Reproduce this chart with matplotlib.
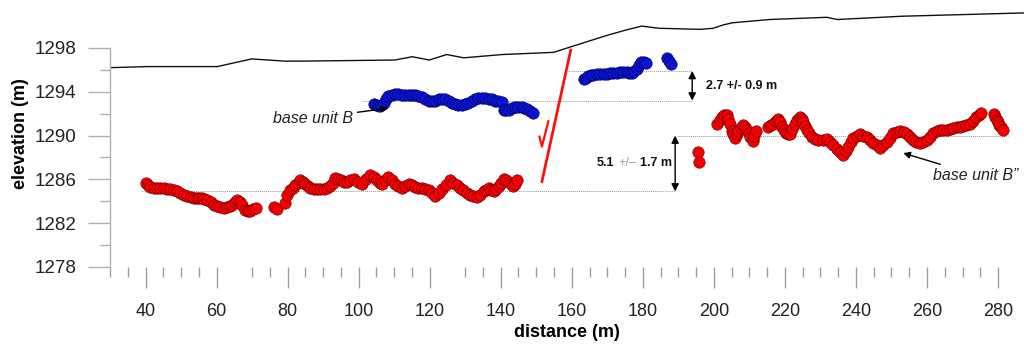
"""
Offset of base unit B across the fault - elevation profile along distance.
"""

import matplotlib
matplotlib.use("Agg")
import matplotlib.pyplot as plt
from matplotlib.ticker import FixedLocator

plt.rcParams["font.family"] = ["Liberation Sans", "DejaVu Sans"]

# ---------------------------------------------------------------------------
# DATA
# ---------------------------------------------------------------------------
# ground surface
topo_x = [30.0, 40.3, 60.2, 69.9, 79.0, 84.4, 110.2, 115.1, 119.9, 124.8, 129.6,
          140.4, 154.9, 159.7, 169.4, 174.8, 179.7, 184.5, 196.1, 199.8, 202.6,
          205.2, 215.8, 231.8, 234.7, 253.2, 287.3]
topo_y = [1296.2, 1296.3, 1296.3, 1297.0, 1296.8, 1296.8, 1296.9, 1297.2, 1296.9,
          1297.4, 1297.1, 1297.4, 1297.6, 1298.1, 1299.1, 1299.6, 1300.0, 1299.8,
          1299.7, 1299.8, 1300.1, 1300.3, 1300.6, 1300.8, 1300.6, 1300.9, 1301.2]

# base unit B (blue, left of fault)
blue_l_x = [104.2, 104.9, 105.6, 106.3, 107.0, 107.7, 108.4, 109.3, 110.3, 111.2,
            112.2, 113.1, 114.1, 115.0, 115.9, 116.8, 117.8, 118.7, 119.7, 120.6,
            121.6, 122.5, 123.5, 124.4, 125.3, 126.2, 127.2, 128.1, 129.1, 130.0,
            130.9, 131.8, 132.8, 133.7, 134.7, 135.6, 136.6, 137.5, 138.4, 139.3,
            140.3, 140.8, 141.5, 142.2, 143.1, 144.1, 145.0, 145.9, 146.6, 147.3,
            148.2, 149.2]
blue_l_y = [1292.9, 1292.8, 1292.7, 1292.8, 1293.0, 1293.3, 1293.6, 1293.7, 1293.8,
            1293.8, 1293.7, 1293.7, 1293.7, 1293.7, 1293.7, 1293.6, 1293.5, 1293.3,
            1293.2, 1293.2, 1293.2, 1293.3, 1293.3, 1293.3, 1293.2, 1293.0, 1292.9,
            1292.8, 1292.8, 1292.9, 1293.0, 1293.2, 1293.3, 1293.4, 1293.4, 1293.4,
            1293.3, 1293.3, 1293.2, 1293.2, 1293.1, 1292.3, 1292.3, 1292.3, 1292.5,
            1292.6, 1292.6, 1292.6, 1292.5, 1292.4, 1292.2, 1292.1]

# base unit B (blue, right of fault)
blue_r_x = [163.3, 164.0, 164.7, 165.4, 166.1, 167.0, 168.0, 169.0, 169.9, 170.8,
            171.7, 172.6, 173.6, 174.5, 175.5, 176.2, 176.9, 177.6, 178.3, 178.9,
            179.4, 180.2, 180.9, 186.8, 187.3, 187.9]
blue_r_y = [1295.2, 1295.3, 1295.4, 1295.5, 1295.5, 1295.6, 1295.6, 1295.6, 1295.6,
            1295.7, 1295.7, 1295.7, 1295.8, 1295.8, 1295.8, 1295.7, 1295.7, 1295.9,
            1296.1, 1296.4, 1296.7, 1296.7, 1296.6, 1297.1, 1296.8, 1296.5]

# base unit B'' (red, left of fault)
red_l_x = [40.0, 40.7, 41.4, 42.3, 43.3, 44.2, 45.1, 46.0, 47.0, 48.0, 48.9, 49.8,
           50.8, 51.8, 52.7, 53.6, 54.5, 55.2, 55.9, 56.6, 57.4, 58.3, 59.2, 60.2,
           61.1, 62.0, 63.0, 63.7, 64.4, 65.1, 65.8, 66.5, 67.2, 68.1, 68.8, 69.5,
           70.4, 71.2, 76.1, 77.0, 79.4, 79.9, 80.8, 81.5, 82.2, 82.9, 83.6, 84.3,
           85.0, 85.7, 86.4, 87.3, 88.3, 89.2, 90.2, 91.1, 92.0, 92.7, 93.4, 94.1,
           94.9, 95.8, 96.7, 97.6, 98.6, 99.8, 101.0, 102.2, 103.3, 104.2, 105.2,
           105.9, 106.6, 107.5, 108.4, 109.3, 110.3, 111.2, 112.2, 113.1, 114.1,
           115.0, 115.9, 116.8, 117.8, 118.7, 119.7, 120.6, 121.6, 122.5, 123.5,
           124.6, 125.8, 126.7, 127.7, 128.6, 129.5, 130.4, 131.4, 132.3, 133.3,
           134.2, 135.2, 135.9, 136.6, 137.3, 138.0, 138.7, 139.4, 140.1, 140.8,
           141.5, 142.2, 142.8, 143.4, 144.0, 144.7]
red_l_y = [1285.7, 1285.5, 1285.3, 1285.2, 1285.2, 1285.2, 1285.2, 1285.1, 1285.1,
           1285.0, 1284.9, 1284.8, 1284.6, 1284.5, 1284.4, 1284.3, 1284.3, 1284.3,
           1284.3, 1284.2, 1284.1, 1283.9, 1283.7, 1283.6, 1283.5, 1283.4, 1283.5,
           1283.6, 1283.7, 1283.9, 1284.1, 1283.9, 1283.7, 1283.2, 1283.1, 1283.1,
           1283.3, 1283.4, 1283.5, 1283.3, 1283.8, 1284.6, 1285.0, 1285.2, 1285.5,
           1285.7, 1285.9, 1285.8, 1285.6, 1285.4, 1285.2, 1285.1, 1285.1, 1285.1,
           1285.1, 1285.2, 1285.4, 1285.7, 1286.1, 1286.0, 1285.9, 1285.8, 1285.8,
           1285.9, 1286.0, 1285.8, 1285.6, 1286.0, 1286.4, 1286.2, 1285.9, 1285.7,
           1285.6, 1285.9, 1286.2, 1285.9, 1285.6, 1285.4, 1285.2, 1285.4, 1285.6,
           1285.5, 1285.3, 1285.2, 1285.2, 1285.1, 1285.0, 1284.8, 1284.5, 1284.8,
           1285.1, 1285.5, 1285.9, 1285.7, 1285.5, 1285.2, 1285.0, 1284.8, 1284.6,
           1284.5, 1284.4, 1284.6, 1284.9, 1285.0, 1285.2, 1285.0, 1284.9, 1285.1,
           1285.4, 1285.7, 1286.0, 1285.9, 1285.8, 1285.6, 1285.4, 1285.6, 1285.9]

# base unit B'' (red, right of fault)
red_r_x = [195.6, 195.9, 201.0, 201.6, 202.2, 202.9, 203.6, 204.1, 204.6, 205.0,
           205.5, 206.0, 206.5, 206.9, 207.6, 208.3, 208.8, 209.3, 209.8, 210.2,
           210.9, 211.4, 211.9, 215.3, 216.0, 216.7, 217.4, 218.1, 218.6, 219.1,
           219.7, 220.3, 220.9, 221.4, 222.1, 222.8, 223.5, 224.2, 224.7, 225.2,
           225.7, 226.1, 226.8, 227.5, 228.5, 229.4, 230.6, 231.8, 232.7, 233.6,
           234.6, 235.5, 236.4, 237.1, 237.8, 238.5, 239.2, 240.2, 241.1, 242.0,
           243.0, 244.0, 244.9, 245.8, 246.8, 247.7, 248.6, 249.6, 250.5, 251.5,
           252.4, 253.4, 254.3, 255.2, 256.1, 257.0, 258.0, 259.0, 259.9, 260.8,
           261.7, 262.7, 263.6, 264.6, 265.5, 266.5, 267.4, 268.4, 269.3, 270.2,
           271.1, 272.1, 273.0, 273.9, 274.5, 275.1, 278.8, 279.2, 279.6, 280.0,
           280.3, 280.9, 281.4]
red_r_y = [1288.5, 1287.6, 1291.1, 1291.4, 1291.7, 1291.9, 1291.9, 1291.5, 1291.1,
           1290.4, 1290.1, 1289.8, 1290.1, 1290.4, 1290.7, 1291.0, 1290.8, 1290.5,
           1290.2, 1289.9, 1289.5, 1290.0, 1290.4, 1290.8, 1291.0, 1291.1, 1291.3,
           1291.5, 1291.2, 1290.8, 1290.5, 1290.2, 1290.1, 1290.1, 1290.6, 1291.1,
           1291.4, 1291.7, 1291.5, 1291.2, 1290.9, 1290.5, 1290.2, 1289.9, 1289.7,
           1289.6, 1289.6, 1289.7, 1289.4, 1289.1, 1288.8, 1288.5, 1288.2, 1288.6,
           1289.0, 1289.4, 1289.8, 1290.0, 1290.1, 1290.0, 1289.9, 1289.6, 1289.3,
           1289.1, 1288.9, 1289.1, 1289.4, 1289.8, 1290.2, 1290.3, 1290.4, 1290.3,
           1290.1, 1289.9, 1289.6, 1289.4, 1289.3, 1289.4, 1289.6, 1289.9, 1290.2,
           1290.4, 1290.5, 1290.5, 1290.5, 1290.6, 1290.7, 1290.8, 1290.8, 1290.9,
           1291.0, 1291.1, 1291.3, 1291.7, 1291.9, 1292.1, 1292.0, 1291.7, 1291.4,
           1291.2, 1291.0, 1290.8, 1290.5]

# fault trace and slip half-arrow
fault_x = [159.7, 151.6]
fault_y = [1297.8, 1285.8]
slip_x = [153.4, 151.6, 150.9]
slip_y = [1291.3, 1289.0, 1289.9]

# mean levels used for the offsets (level, x start, x end)
ref_level = [1293.2, 1295.9, 1284.9, 1290.0]
ref_x0 = [101.0, 159.0, 38.6, 189.7]
ref_x1 = [193.9, 193.9, 189.1, 282.8]

# vertical offsets (x, low, high)
offset_x = [193.9, 189.1]
offset_lo = [1293.2, 1284.9]
offset_hi = [1295.9, 1290.0]

x_major = [40, 60, 80, 100, 120, 140, 160, 180, 200, 220, 240, 260, 280]
x_minor = [30, 35, 45, 50, 55, 70, 75, 85, 90, 95, 105, 110, 115, 130, 135,
           145, 150, 155, 165, 170, 175, 185, 190, 195, 205, 210, 215, 225, 230,
           235, 245, 250, 255, 265, 270, 275]
y_major = [1278, 1282, 1286, 1290, 1294, 1298]
y_minor = [1280, 1284, 1288, 1292, 1296]

RED = "#f50000"
BLUE = "#0a14d2"

# ---------------------------------------------------------------------------
# PLOT
# ---------------------------------------------------------------------------
fig = plt.figure(figsize=(10.24, 3.45), dpi=100)
ax = fig.add_axes([0.1074, 0.2261, 0.8926, 0.7739])

ax.plot(topo_x, topo_y, color="#111111", lw=1.0, zorder=2)

for lvl, x0, x1 in zip(ref_level, ref_x0, ref_x1):
    ax.plot([x0, x1], [lvl, lvl], color="#9a9a9a", lw=0.7, ls=(0, (1, 1)), zorder=1)

sc = dict(s=68, linewidths=0.4, zorder=3)
ax.scatter(red_l_x, red_l_y, c=RED, edgecolors="#5a0000", **sc)
ax.scatter(red_r_x, red_r_y, c=RED, edgecolors="#5a0000", **sc)
ax.scatter(blue_l_x, blue_l_y, c=BLUE, edgecolors="#000050", **sc)
ax.scatter(blue_r_x, blue_r_y, c=BLUE, edgecolors="#000050", **sc)

ax.plot(fault_x, fault_y, color="#ff1010", lw=2.0, zorder=4)
ax.plot(slip_x, slip_y, color="#ff1010", lw=1.6, zorder=4)

for xo, lo, hi in zip(offset_x, offset_lo, offset_hi):
    ax.annotate("", xy=(xo, lo), xytext=(xo, hi),
                arrowprops=dict(arrowstyle="<|-|>", color="black", lw=1.0,
                                mutation_scale=11, shrinkA=0, shrinkB=0))

ax.text(197.8, 1294.5, "2.7 +/- 0.9 m", fontsize=9, fontweight="bold",
        ha="left", va="center", color="#111111")
t3 = ax.text(188.2, 1287.5, "1.7 m", fontsize=9, fontweight="bold",
             ha="right", va="center", color="#111111")
t2 = ax.annotate("+/\u2013", xy=(0, 0.5), xycoords=t3, xytext=(-3, 0),
                 textcoords="offset points", fontsize=9, color="#9a9a9a",
                 ha="right", va="center")
ax.annotate("5.1", xy=(0, 0.5), xycoords=t2, xytext=(-3, 0),
            textcoords="offset points", fontsize=9, fontweight="bold",
            color="#111111", ha="right", va="center")

ax.annotate("base unit B", xy=(108.4, 1292.5), xytext=(98.5, 1291.6),
            fontsize=11.5, style="italic", color="#222222", ha="right", va="center",
            arrowprops=dict(arrowstyle="-|>", color="black", lw=1.0,
                            mutation_scale=10, shrinkA=1, shrinkB=0))
ax.annotate("base unit B\u201d", xy=(253.3, 1288.4), xytext=(261.7, 1286.4),
            fontsize=11.5, style="italic", color="#222222", ha="left", va="center",
            arrowprops=dict(arrowstyle="-|>", color="black", lw=1.0,
                            mutation_scale=10, shrinkA=1, shrinkB=0))

# axes styling
ax.set_xlim(30, 287.3)
ax.set_ylim(1278, 1302.38)
for side in ("top", "right", "bottom"):
    ax.spines[side].set_visible(False)
ax.spines["left"].set_bounds(1278, 1298)
ax.spines["left"].set_color("#b0b0b0")
ax.spines["left"].set_linewidth(1.0)

ax.xaxis.set_major_locator(FixedLocator(x_major))
ax.xaxis.set_minor_locator(FixedLocator(x_minor))
ax.yaxis.set_major_locator(FixedLocator(y_major))
ax.yaxis.set_minor_locator(FixedLocator(y_minor))

ax.tick_params(axis="x", which="major", direction="out", length=15, width=1.0,
               color="#a0a0a0", labelsize=13, pad=11, labelcolor="#222222")
ax.tick_params(axis="x", which="minor", direction="out", length=7, width=1.0,
               color="#a0a0a0")
ax.tick_params(axis="y", which="major", direction="out", length=16, width=1.0,
               color="#b0b0b0", labelsize=13.5, pad=8, labelcolor="#222222")
ax.tick_params(axis="y", which="minor", direction="out", length=7, width=1.0,
               color="#b0b0b0")

ax.set_xlabel("distance (m)", fontsize=13, fontweight="bold", labelpad=3)
ax.set_ylabel("elevation (m)", fontsize=13, fontweight="bold", labelpad=4)

fig.savefig("out.png", dpi=100, facecolor="white")
